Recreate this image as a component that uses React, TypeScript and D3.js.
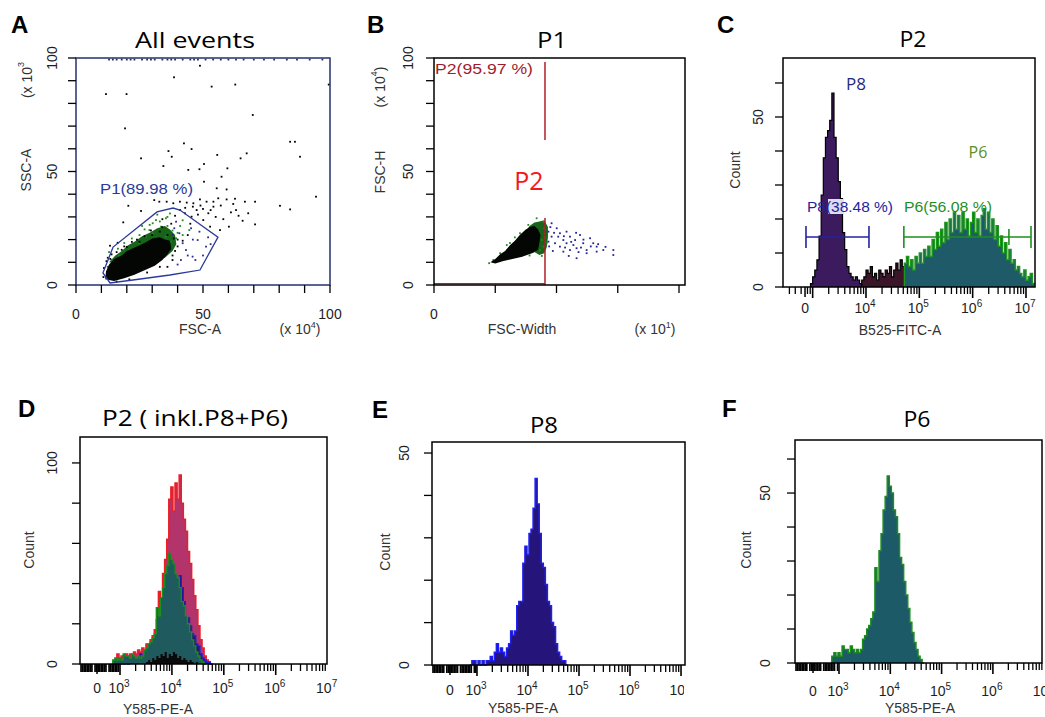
import React from "react";
import * as d3 from "d3";

type Pt = [number, number];

// ================= DATA =================
// Panel A — All events: FSC-A (x10^4) vs SSC-A (x10^3)
const aGateP1: Pt[] = [[10.6,5.3],[14.6,16.7],[31.9,32.2],[38.2,33.9],[40.9,33.0],[55.9,21.1],[48.8,6.6],[37.0,4.4],[22.4,2.2],[13.4,0.9]];
const aCoreBlack: Pt[] = [[11.5,2.5],[11.8,6],[13,9],[15,11.5],[18,13],[20,15],[24,17],[27,18.5],[30,20.5],[33,21],[35,20],[37,19.5],[37.5,16],[36,13.5],[34,11],[31,8.5],[27,6.5],[23,4.5],[19,3],[15,1.8]];
const aHaloGreen: Pt[] = [[13,10],[15.5,13],[18,15],[20.5,17.5],[23,19],[26,21.5],[29,23],[32,25],[35,26],[37,24.5],[39,22],[39.5,18],[38,15],[35,12],[30,11],[22,9]];
const aBlackDots: Pt[] = [[48.8,96.6],[38.6,91.5],[53.4,87.4],[62.7,88.3],[11.8,84.1],[19.9,84.1],[99.5,88.3],[69.6,74.9],[19.3,69.0],[42.5,62.4],[45.5,59.9],[36.4,59.0],[37.7,56.5],[25.6,55.8],[34.4,52.4],[55.6,57.3],[84.3,63.1],[86.2,63.1],[88.2,56.5],[67.2,58.0],[64.8,55.8],[59.6,51.4],[50.4,53.3],[48.6,51.0],[44.2,50.7],[57.3,47.7],[50.4,45.5],[55.4,42.6],[59.3,42.1],[94.5,38.9],[80.3,34.9],[84.3,33.3],[70.5,36.7],[66.5,36.7],[62.6,38.0],[67.8,31.6],[65.6,28.3],[70.5,26.7],[60.2,25.7],[61.9,35.7],[59.3,37.7],[56.0,38.2],[48.8,37.7],[46.2,36.0],[43.6,36.3],[40.9,36.7],[30.8,37.4],[32.8,36.7],[20.6,34.9],[25.6,32.6],[18.6,27.6],[16.4,18.6],[13.4,17.3],[54.1,34.5],[52.1,31.6],[50.1,28.6],[47.5,33.0],[45.5,30.1],[42.9,31.6],[38.3,36.0],[35.7,36.7],[52.8,25.7],[56.7,24.2],[51.4,36.7],[54.1,36.7],[12,10.5],[14,13.5],[10.8,3.5],[36,8],[38,13],[40,17],[30,22],[27,21.5],[22,19],[18,15.5],[33,23.5],[44,22],[42,19.5],[37.5,27],[34,29],[39,30.5],[45,27],[48,31],[43,34],[41,33],[46,34.5],[49,35],[50,33.5],[53,33],[57,35],[58,29],[55,30],[61,32],[63,33],[64,30.5],[12.5,12],[16,14.5],[20,16.8],[25,19],[38.5,20.5],[39,15],[38,11],[33,8],[28,5.5],[21,2.5],[16,1.5],[11,7.5],[13.5,11.5],[19,17],[24,20],[36,22],[40,20],[34,25.5],[29.5,24]];
const aGreenDots: Pt[] = [[31.5,28.6],[33.5,25.7],[35.4,29.4],[30.2,22.8],[27.6,21.3],[24.9,18.4],[35.4,21.3],[37.4,19.1],[32.8,16.9],[28.9,24.2],[26.2,15.4],[21,15.4],[30.2,27.2],[44.6,24.2],[39.4,20.6],[34.1,13.9],[23.6,12.5],[19.7,11],[15.7,9.5],[17,13],[14,11],[12.5,8],[38,24],[41,26],[36,26],[29,26.5],[32,31],[37,31.5],[42,28.5],[25,22],[22,20.5],[19,18.5],[16.5,16],[27,24.5],[33,28],[40,23],[42,22],[13,14.5],[26,26],[36,30]];
const aBlueDots: Pt[] = [[39.4,27.9],[42,18.4],[43.3,15.4],[45.3,25],[40.7,22.8],[47.9,19.8],[51.2,16.9],[38.7,25],[45.9,12.5],[41.3,11],[48.6,23.5],[36.7,15.4],[50,13],[53,18],[46,20],[44,13],[40,9],[47,11],[52,21],[38,22]];
const aTopEdgeX: number[] = [13,14.5,16,18,20,21.5,23,26,28,29.5,31,34,36,37.5,39,42,45,46.5,48,51,54,57,60,63,66,70,74,78,83,87,92,97];

// Panel B — P1: FSC-Width (x10^1) vs FSC-H (x10^4)
const bGateX = 45.3;
const bGateUpper: Pt = [98.2, 63.9];
const bGateLower: Pt = [29.5, 0];
const bCoreBlack: Pt[] = [[23,10],[25,11.5],[27,13.5],[29,15],[31,17.5],[33,19.5],[35,22],[37,24],[39,25.5],[41,26],[42.5,24.5],[43.5,22],[43,18.5],[42.5,15.5],[40,14],[36,12.5],[32,11.5],[28,10.5],[25,9.5]];
const bHaloGreen: Pt[] = [[37.5,23.5],[39,26],[41,27.5],[43,28],[45,28.5],[46.5,25.5],[46.5,21],[46,16.5],[45,14],[43,13.2],[41,14.5],[40.5,19]];
const bGreenDots: Pt[] = [[41.9,29.4],[44.6,27.8],[42.6,23.5],[44,19.8],[43.3,15.4],[40.6,14.7],[44.6,16.9],[37.8,24.2],[35.1,22.8],[29.7,17.6],[27,14],[24.2,11],[41.2,19.1],[45.5,21],[45,25],[33,21],[31,18.5],[39,13],[44,12.8],[46,18.5],[38.5,26.5],[22.5,9.6]];
const bBlueDots: Pt[] = [[46.7,23.5],[48.0,27.2],[50.1,25.0],[51.4,22.8],[52.8,19.8],[49.4,18.4],[54.1,23.5],[55.5,21.3],[57.6,19.8],[59.6,22.0],[60.9,18.4],[62.3,15.4],[58.2,16.2],[55.5,15.4],[52.8,14.7],[51.4,16.9],[63.7,20.6],[65.0,18.4],[66.4,16.9],[69.1,15.4],[73.2,15.4],[73.2,13.2],[66.4,14.7],[62.3,14.0],[58.2,11.8],[54.1,18.4],[56.9,17.6],[50.7,21.3],[48.0,21.3],[46.7,19.1],[47.5,25.5],[49,23],[53,21.5],[56,19],[58,23],[61,20],[64,17],[67,18],[59,14.5],[53.5,16.5],[47,17],[48.5,15],[60,16.5],[70,16.8],[55,12.8]];

// Panel C — P2: B525-FITC-A histogram (bins in log10 units)
const cBinStart = 2.96;
const cBinWidth = 0.04;
const cCounts: number[] = [1,3,5,8,15,27,38,44,46,49,57,44,38,31,26,16,11,6,4,3,2,3,2,1,2,3,5,4,6,3,4,2,5,4,3,5,4,6,3,5,7,5,8,6,7,9,6,8,5,9,7,10,7,11,9,12,9,14,11,16,12,17,13,19,14,20,16,22,17,21,16,22,17,20,15,19,22,16,20,15,21,23,17,22,16,20,14,18,12,15,10,13,8,11,7,8,5,6,4,3,5,2,3,4,1];
const cP8End = 24;   // bins [0,24) -> P8 population
const cP6Start = 44; // bins [44, end) -> P6 population
const cGateY = 14.7;
const cGateP8: Pt = [2.875, 4.056];
const cGateP6: Pt = [4.71, 7.094];
const cGateP6Mid = 6.68;

// Panels D/E/F — Y585-PE-A histograms (bins in log10 units)
const peBinStart = 2.86;
const peBinWidth = 0.04;
const dTotal: number[] = [0,2,5,3,4,3,5,4,5,4,6,5,7,6,8,7,10,9,12,14,17,22,36,33,45,52,62,82,88,76,90,82,94,80,72,66,56,50,42,34,27,19,12,8,4,2,1,0];
const dOther: number[] = [0,0,0,0,0,0,0,0,0,0,0,0,0,0,0,0,1,2,1,3,2,4,3,5,4,6,3,5,4,6,5,3,4,2,3,2,1,2,1,0,1,0,0,0,0,0,0,0];
const eP8: number[] = [0,1,1,0,1,0,1,0,1,1,2,1,3,5,3,4,3,2,4,5,8,7,8,14,15,15,24,28,26,31,32,37,44,38,31,24,23,19,15,14,10,9,5,3,2,1,1,0];
const fP6: number[] = [2,3,2,3,2,5,4,4,3,5,4,3,4,3,4,7,8,10,11,13,15,28,24,33,38,45,49,55,52,50,45,43,38,31,29,24,20,16,12,9,6,4,2,1,0];

const linTicks10: number[] = [0,10,20,30,40,50,60,70,80,90,100];
const linTicks25: number[] = [0,25,50,75,100];

// ================= STYLE =================
const SANS = "'Liberation Sans', Arial, Helvetica, sans-serif";
const TITLE = "'Open Sans', 'Noto Sans', sans-serif";
const TXT = "#1e1e1e";

type Lin = d3.ScaleLinear<number, number>;

function dots(pts: Pt[], x: Lin, y: Lin, color: string, key: string, size = 1.8) {
  return pts.map((p, i) => (
    <rect key={key + i} x={x(p[0]) - size / 2} y={y(p[1]) - size / 2} width={size} height={size} fill={color} />
  ));
}

function blob(pts: Pt[], x: Lin, y: Lin) {
  return d3.line<Pt>().x(d => x(d[0])).y(d => y(d[1])).curve(d3.curveLinearClosed)(pts) || "";
}

function histPts(u0: number, w: number, counts: number[], from: number, to: number): Pt[] {
  const pts: Pt[] = [];
  for (let i = from; i < to; i++) pts.push([u0 + w * i, counts[i]]);
  pts.push([u0 + w * to, counts[to - 1]]);
  return pts;
}

function histArea(x: Lin, y: Lin, u0: number, w: number, counts: number[], from = 0, to = counts.length) {
  const pts = histPts(u0, w, counts, from, to);
  return d3.area<Pt>().x(d => x(d[0])).y0(y(0)).y1(d => y(d[1])).curve(d3.curveStepAfter)(pts) || "";
}

function histLine(x: Lin, y: Lin, u0: number, w: number, counts: number[], from = 0, to = counts.length) {
  const pts = histPts(u0, w, counts, from, to);
  const all: Pt[] = [[u0 + w * from, 0], ...pts, [u0 + w * to, 0]];
  return d3.line<Pt>().x(d => x(d[0])).y(d => y(d[1])).curve(d3.curveStepAfter)(all) || "";
}

function yAxis(y: Lin, x0: number, ticks: number[], labels: number[], key: string, labelX: number, len = 8) {
  return (
    <g key={key}>
      {ticks.map(t => <line key={key + "t" + t} x1={x0 - len} x2={x0} y1={y(t)} y2={y(t)} stroke="#000" strokeWidth={1.3} />)}
      {labels.map(t => (
        <text key={key + "l" + t} transform={`translate(${labelX},${y(t)}) rotate(-90)`} textAnchor="middle"
          dominantBaseline="central" fontFamily={SANS} fontSize={14} fill={TXT}>{t}</text>
      ))}
    </g>
  );
}

function logAxis(x: Lin, y0: number, opts: { zeroU: number; dense: boolean; logStart: number; decades: number[]; labelY: number; key: string }) {
  const [u0, u1] = x.domain();
  const out: React.ReactNode[] = [];
  const k = opts.key;
  if (opts.dense) {
    for (let u = u0 + 0.02, i = 0; u < opts.logStart - 0.015; u += 0.03, i++) {
      if (i % 9 === 8) continue;
      out.push(<line key={k + "d" + i} x1={x(u)} x2={x(u)} y1={y0} y2={y0 + 8} stroke="#000" strokeWidth={1.7} />);
    }
  } else {
    for (let u = u0 + 0.12, i = 0; u < opts.zeroU - 0.05; u += 0.11, i++) {
      out.push(<line key={k + "n" + i} x1={x(u)} x2={x(u)} y1={y0} y2={y0 + 7} stroke="#000" strokeWidth={1.3} />);
    }
  }
  out.push(<line key={k + "z"} x1={x(opts.zeroU)} x2={x(opts.zeroU)} y1={y0} y2={y0 + 10} stroke="#000" strokeWidth={1.5} />);
  for (let d = 2; d <= 7; d++) {
    for (let m = 1; m <= 9; m++) {
      const u = d + Math.log10(m);
      if (u < opts.logStart - 1e-6 || u > u1 + 1e-6) continue;
      out.push(<line key={k + "m" + d + "_" + m} x1={x(u)} x2={x(u)} y1={y0} y2={y0 + (m === 1 ? 11 : 7)} stroke="#000" strokeWidth={m === 1 ? 1.6 : 1.3} />);
    }
  }
  out.push(<text key={k + "l0"} x={x(opts.zeroU)} y={opts.labelY} textAnchor="middle" fontFamily={SANS} fontSize={14} fill={TXT}>0</text>);
  opts.decades.forEach(d => {
    out.push(
      <text key={k + "ld" + d} x={x(d) - 1} y={opts.labelY} textAnchor="middle" fontFamily={SANS} fontSize={14} fill={TXT}>
        10<tspan dy={-6} fontSize={10}>{d}</tspan>
      </text>
    );
  });
  return <g key={k}>{out}</g>;
}

function panelLetter(t: string, x: number, y: number) {
  return <text key={"L" + t} x={x} y={y} fontFamily={SANS} fontWeight="bold" fontSize={24} fill="#000">{t}</text>;
}

function title(t: string, cx: number, y: number, width: number) {
  return <text key={"T" + t + cx} x={cx - width / 2} y={y} fontFamily={TITLE} fontSize={21} fill="#000"
    textLength={width} lengthAdjust="spacingAndGlyphs">{t}</text>;
}

function rotText(t: React.ReactNode, x: number, y: number, key: string, size = 14) {
  return <text key={key} transform={`translate(${x},${y}) rotate(-90)`} textAnchor="middle" dominantBaseline="central"
    fontFamily={SANS} fontSize={size} fill="#333">{t}</text>;
}

export default function App() {
  // ---------- scales ----------
  const xA = d3.scaleLinear().domain([0, 100]).range([76, 330]);
  const yA = d3.scaleLinear().domain([0, 100]).range([285, 58]);
  const xB = d3.scaleLinear().domain([0, 100]).range([434, 679]);
  const yB = d3.scaleLinear().domain([0, 100]).range([285, 58]);
  const xC = d3.scaleLinear().domain([2.444, 7.169]).range([783, 1035]);
  const yC = d3.scaleLinear().domain([0, 67.35]).range([287, 58]);
  const xD = d3.scaleLinear().domain([2.229, 6.988]).range([80, 327]);
  const yD = d3.scaleLinear().domain([0, 112.9]).range([664, 437]);
  const xE = d3.scaleLinear().domain([2.118, 7.078]).range([432, 685]);
  const yE = d3.scaleLinear().domain([0, 52.6]).range([665, 442]);
  const xF = d3.scaleLinear().domain([2.142, 6.957]).range([795, 1042]);
  const yF = d3.scaleLinear().domain([0, 65.6]).range([663, 440]);

  const frameRect = (x0: number, x1: number, y: Lin, key: string, color = "#000") => {
    const [yb, yt] = y.range();
    return <rect key={key} x={x0} y={yt} width={x1 - x0} height={yb - yt} fill="none" stroke={color} strokeWidth={1.5} />;
  };

  const gateLine = d3.line<Pt>().x(d => xA(d[0])).y(d => yA(d[1])).curve(d3.curveLinearClosed);

  return (
    <div style={{ position: "absolute", left: 0, top: 0 }}>
      <svg width={1045} height={717} style={{ display: "block", background: "#fff" }}>
        <defs>
          <clipPath id="clipE"><rect x={340} y={380} width={344} height={337} /></clipPath>
        </defs>
        {/* ================= Panel A ================= */}
        <g>
          {panelLetter("A", 11, 33)}
          {title("All events", 195, 48, 120)}
          <path d={blob(aHaloGreen, xA, yA)} fill="#17641a" />
          {dots(aGreenDots, xA, yA, "#1f8a1f", "ag")}
          {dots(aBlueDots, xA, yA, "#2a2a9a", "ab")}
          <path d={blob(aCoreBlack, xA, yA)} fill="#040604" />
          {dots(aBlackDots, xA, yA, "#000", "ak")}
          {dots(aTopEdgeX.map(v => [v, 99.3] as Pt), xA, yA, "#333", "at", 1.8)}
          <path d={gateLine(aGateP1) || ""} fill="none" stroke="#2b3a9a" strokeWidth={1.3} />
          <text x={100} y={194} fontFamily={SANS} fontSize={14} fill="#2b3a9a" textLength={93} lengthAdjust="spacingAndGlyphs">P1(89.98 %)</text>
          {frameRect(76, 330, yA, "fA", "#26326e")}
          {yAxis(yA, 76, linTicks10, [0, 50, 100], "yA", 52)}
          {linTicks10.map(t => <line key={"xA" + t} x1={xA(t)} x2={xA(t)} y1={285} y2={293} stroke="#000" strokeWidth={1.3} />)}
          {[0, 50, 100].map(t => <text key={"xAl" + t} x={xA(t)} y={319} textAnchor="middle" fontFamily={SANS} fontSize={14} fill={TXT}>{t}</text>)}
          {rotText("SSC-A", 26, 170, "ayl")}
          {rotText(<>(x 10<tspan dy={-6} fontSize={9}>3</tspan></>, 27, 80, "ayl2")}
          <text x={200} y={334} textAnchor="middle" fontFamily={SANS} fontSize={14} fill="#333">FSC-A</text>
          <text x={300} y={334} textAnchor="middle" fontFamily={SANS} fontSize={14} fill="#333">(x 10<tspan dy={-6} fontSize={9}>4</tspan><tspan dy={6}>)</tspan></text>
        </g>

        {/* ================= Panel B ================= */}
        <g>
          {panelLetter("B", 367, 33)}
          {title("P1", 552, 48, 30)}
          <path d={blob(bHaloGreen, xB, yB)} fill="#17641a" />
          {dots(bGreenDots, xB, yB, "#1f8a1f", "bg")}
          <path d={blob(bCoreBlack, xB, yB)} fill="#040604" />
          {dots(bBlueDots, xB, yB, "#23239a", "bb")}
          {/* gate P2 */}
          <line x1={xB(bGateX)} x2={xB(bGateX)} y1={yB(bGateUpper[0])} y2={yB(bGateUpper[1])} stroke="#b0202a" strokeWidth={1.5} />
          <line x1={xB(bGateX)} x2={xB(bGateX)} y1={yB(bGateLower[0])} y2={yB(bGateLower[1])} stroke="#b0202a" strokeWidth={1.5} />
          <line x1={xB(0)} x2={xB(bGateX)} y1={yB(0.6)} y2={yB(0.6)} stroke="#b0202a" strokeWidth={1.5} />
          <text x={435} y={74} fontFamily={SANS} fontSize={14} fill="#a01c2c" textLength={98} lengthAdjust="spacingAndGlyphs">P2(95.97 %)</text>
          <text x={529} y={190} textAnchor="middle" fontFamily={TITLE} fontSize={25} fill="#f01818">P2</text>
          {frameRect(434, 685, yB, "fB")}
          {yAxis(yB, 434, linTicks10, [0, 50, 100], "yB", 408)}
          {linTicks25.map(t => <line key={"xB" + t} x1={xB(t)} x2={xB(t)} y1={285} y2={293} stroke="#000" strokeWidth={1.3} />)}
          <text x={xB(0)} y={319} textAnchor="middle" fontFamily={SANS} fontSize={14} fill={TXT}>0</text>
          {rotText("FSC-H", 380, 172, "byl")}
          {rotText(<>(x 10<tspan dy={-6} fontSize={9}>4</tspan><tspan dy={6}>)</tspan></>, 380, 87, "byl2")}
          <text x={522} y={334} textAnchor="middle" fontFamily={SANS} fontSize={14} fill="#333">FSC-Width</text>
          <text x={655} y={334} textAnchor="middle" fontFamily={SANS} fontSize={14} fill="#333">(x 10<tspan dy={-6} fontSize={9}>1</tspan><tspan dy={6}>)</tspan></text>
        </g>

        {/* ================= Panel C ================= */}
        <g>
          {panelLetter("C", 717, 33)}
          {title("P2", 913, 47, 27)}
          <path d={histArea(xC, yC, cBinStart, cBinWidth, cCounts, 0, cP8End)} fill="#3b1a5e" />
          <path d={histLine(xC, yC, cBinStart, cBinWidth, cCounts, 0, cP8End)} fill="none" stroke="#000" strokeWidth={1.2} />
          <path d={histArea(xC, yC, cBinStart, cBinWidth, cCounts, cP8End, cP6Start)} fill="#3a1628" />
          <path d={histLine(xC, yC, cBinStart, cBinWidth, cCounts, cP8End, cP6Start)} fill="none" stroke="#000" strokeWidth={1.2} />
          <path d={histArea(xC, yC, cBinStart, cBinWidth, cCounts, cP6Start)} fill="#1f5a68" />
          <path d={histLine(xC, yC, cBinStart, cBinWidth, cCounts, cP6Start)} fill="none" stroke="#1d961d" strokeWidth={1.5} />
          {/* gates */}
          <rect x={828} y={199} width={15} height={15} fill="#dcdcee" />
          <text x={807} y={212} fontFamily={SANS} fontSize={14} fill="#2323a0" textLength={86} lengthAdjust="spacingAndGlyphs">P8(38.48 %)</text>
          <text x={904} y={212} fontFamily={SANS} fontSize={14} fill="#1f8f1f" textLength={88} lengthAdjust="spacingAndGlyphs">P6(56.08 %)</text>
          <g stroke="#2323a0" strokeWidth={1.6}>
            <line x1={xC(cGateP8[0])} x2={xC(cGateP8[1])} y1={yC(cGateY)} y2={yC(cGateY)} />
            <line x1={xC(cGateP8[0])} x2={xC(cGateP8[0])} y1={yC(cGateY) - 11} y2={yC(cGateY) + 11} />
            <line x1={xC(cGateP8[1])} x2={xC(cGateP8[1])} y1={yC(cGateY) - 11} y2={yC(cGateY) + 11} />
          </g>
          <g stroke="#1f8f1f" strokeWidth={1.6}>
            <line x1={xC(cGateP6[0])} x2={xC(cGateP6[1])} y1={yC(cGateY)} y2={yC(cGateY)} />
            <line x1={xC(cGateP6[0])} x2={xC(cGateP6[0])} y1={yC(cGateY) - 11} y2={yC(cGateY) + 11} />
            <line x1={xC(cGateP6[1])} x2={xC(cGateP6[1])} y1={yC(cGateY) - 11} y2={yC(cGateY) + 11} />
            <line x1={xC(cGateP6Mid)} x2={xC(cGateP6Mid)} y1={yC(cGateY) - 8} y2={yC(cGateY) + 8} />
          </g>
          <text x={856} y={90} textAnchor="middle" fontFamily={TITLE} fontSize={17} fill="#1f2a80">P8</text>
          <text x={978} y={158} textAnchor="middle" fontFamily={TITLE} fontSize={16} fill="#5a8f2a">P6</text>
          {frameRect(783, 1035, yC, "fC")}
          {yAxis(yC, 783, [0, 10, 20, 30, 40, 50, 60], [0, 50], "yC", 758)}
          {logAxis(xC, 287, { zeroU: 2.857, dense: false, logStart: 2.89, decades: [4, 5, 6, 7], labelY: 313, key: "xC" })}
          {rotText("Count", 735, 170, "cyl")}
          <text x={900} y={335} textAnchor="middle" fontFamily={SANS} fontSize={14} fill="#333">B525-FITC-A</text>
        </g>

        {/* ================= Panel D ================= */}
        <g>
          {panelLetter("D", 18, 417)}
          {title("P2 ( inkl.P8+P6)", 195, 426, 186)}
          <path d={histArea(xD, yD, peBinStart, peBinWidth, dTotal)} fill="#b2346a" />
          <path d={histLine(xD, yD, peBinStart, peBinWidth, dTotal)} fill="none" stroke="#ee1c24" strokeWidth={1.5} />
          <path d={histArea(xD, yD, peBinStart, peBinWidth, eP8)} fill="#23186e" />
          <path d={histLine(xD, yD, peBinStart, peBinWidth, eP8)} fill="none" stroke="#1e1ee0" strokeWidth={1.3} />
          <path d={histArea(xD, yD, peBinStart, peBinWidth, fP6)} fill="#1e5a5e" />
          <path d={histLine(xD, yD, peBinStart, peBinWidth, fP6)} fill="none" stroke="#1c8c1c" strokeWidth={1.4} />
          <path d={histArea(xD, yD, peBinStart, peBinWidth, dOther)} fill="#0a0a0a" />
          {frameRect(80, 327, yD, "fD")}
          {yAxis(yD, 80, [0, 20, 40, 60, 80, 100], [0, 100], "yD", 52)}
          {logAxis(xD, 664, { zeroU: 2.557, dense: true, logStart: 3, decades: [3, 4, 5, 6, 7], labelY: 693, key: "xD" })}
          {rotText("Count", 29, 550, "dyl")}
          <text x={158} y={714} textAnchor="middle" fontFamily={SANS} fontSize={14} fill="#333">Y585-PE-A</text>
        </g>

        {/* ================= Panel E ================= */}
        <g>
          {panelLetter("E", 372, 418)}
          {title("P8", 544, 433, 28)}
          <path d={histArea(xE, yE, peBinStart, peBinWidth, eP8)} fill="#25157a" />
          <path d={histLine(xE, yE, peBinStart, peBinWidth, eP8)} fill="none" stroke="#1f1ff0" strokeWidth={1.5} />
          {frameRect(432, 685, yE, "fE")}
          {yAxis(yE, 432, [0, 10, 20, 30, 40, 50], [0, 50], "yE", 404)}
          <g clipPath="url(#clipE)">
            {logAxis(xE, 665, { zeroU: 2.471, dense: true, logStart: 3, decades: [3, 4, 5, 6, 7], labelY: 695, key: "xE" })}
          </g>
          {rotText("Count", 385, 552, "eyl")}
          <text x={523} y={713} textAnchor="middle" fontFamily={SANS} fontSize={14} fill="#333">Y585-PE-A</text>
        </g>

        {/* ================= Panel F ================= */}
        <g>
          {panelLetter("F", 722, 417)}
          {title("P6", 917, 427, 27)}
          <path d={histArea(xF, yF, peBinStart, peBinWidth, fP6)} fill="#1d5a68" />
          <path d={histLine(xF, yF, peBinStart, peBinWidth, fP6)} fill="none" stroke="#1c8c1c" strokeWidth={1.5} />
          {frameRect(795, 1042, yF, "fF")}
          {yAxis(yF, 795, [0, 10, 20, 30, 40, 50, 60], [0, 50], "yF", 765)}
          {logAxis(xF, 663, { zeroU: 2.493, dense: true, logStart: 3, decades: [3, 4, 5, 6, 7], labelY: 696, key: "xF" })}
          {rotText("Count", 746, 550, "fyl")}
          <text x={920} y={713} textAnchor="middle" fontFamily={SANS} fontSize={14} fill="#333">Y585-PE-A</text>
        </g>
      </svg>
    </div>
  );
}
